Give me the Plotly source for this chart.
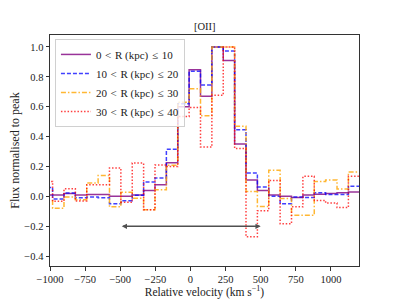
import plotly.graph_objects as go
import numpy as np

# Bin centres (km/s) and fluxes normalised to peak
velocity = [-1022, -941, -860, -779, -698, -617, -536, -455, -374, -293, -212, -131, -50,
            31, 112, 193, 274, 355, 436, 517, 598, 679, 760, 841, 922, 1003, 1084, 1165]
bin_width = 81

flux_0_10 = [0.01, 0.01, 0.02, 0.01, 0.013, 0.013, 0.0, 0.0, 0.01, 0.04, 0.078, 0.225, 0.60, 0.848,
             0.67, 1.0, 0.91, 0.35, 0.11, 0.04, 0.01, 0.0, -0.007, 0.01, 0.015, 0.02, 0.025, 0.03]
flux_10_20 = [0.06, -0.018, 0.022, -0.01, -0.005, -0.01, -0.05, -0.03, 0.007, 0.096, 0.123, 0.315, 0.62, 0.837,
              0.745, 1.0, 0.973, 0.446, 0.156, 0.062, 0.0, -0.05, -0.005, -0.007, 0.025, 0.013, 0.013, 0.067]
flux_20_30 = [-0.03, -0.08, -0.005, -0.022, 0.09, 0.14, -0.07, 0.027, -0.013, -0.09, 0.045, 0.208, 0.63, 0.72,
              0.54, 1.0, 1.0, 0.47, 0.033, -0.067, 0.174, -0.015, -0.127, -0.127, 0.1, 0.11, 0.05, 0.163]
flux_30_40 = [0.1, -0.033, 0.051, -0.031, 0.078, 0.078, 0.19, -0.04, 0.223, -0.09, 0.21, 0.2, 0.535, 0.594,
              0.33, 0.676, 1.0, 0.32, -0.27, -0.096, 0.107, -0.183, -0.07, 0.134, -0.027, -0.045, -0.075, 0.134]

SP = "\u2004"  # math-style spacing around relations
labels = [f"0{SP}&lt;{SP}R (kpc){SP}≤{SP}10", f"10{SP}&lt;{SP}R (kpc){SP}≤{SP}20",
          f"20{SP}&lt;{SP}R (kpc){SP}≤{SP}30", f"30{SP}&lt;{SP}R (kpc){SP}≤{SP}40"]
series = [flux_0_10, flux_10_20, flux_20_30, flux_30_40]
colors = ["rgba(128,0,128,0.8)", "rgba(0,0,255,0.75)", "rgba(255,165,0,0.8)", "rgba(255,0,0,0.75)"]
dashes = ["solid", "4px,2px", "5px,2px,1.5px,2px", "1.5px,1.8px"]

arrow_start, arrow_end, arrow_y = -500, 500, -0.2

xticks = [-1000, -750, -500, -250, 0, 250, 500, 750, 1000]
yticks = [-0.4, -0.2, 0.0, 0.2, 0.4, 0.6, 0.8, 1.0]

FONT = "Liberation Serif"
TXT = "#222"

v = np.array(velocity, dtype=float)
edges = np.append(v - bin_width / 2, v[-1] + bin_width / 2)

fig = go.Figure()
for lab, f, c, d in zip(labels, series, colors, dashes):
    fig.add_trace(go.Scatter(
        x=edges, y=list(f) + [f[-1]], mode="lines", name=lab,
        line=dict(shape="hv", color=c, dash=d, width=1.5),
    ))

fig.add_annotation(x=arrow_end, y=arrow_y, ax=arrow_start, ay=arrow_y,
                   xref="x", yref="y", axref="x", ayref="y", text="",
                   showarrow=True, arrowhead=2, startarrowhead=2, arrowside="end+start",
                   arrowsize=0.7, startarrowsize=0.7, arrowwidth=1.5, arrowcolor="#505050")

fig.add_annotation(x=0.5, y=1, xref="paper", yref="paper", text="[OII]", showarrow=False,
                   yanchor="bottom", yshift=1, font=dict(family=FONT, size=10.5, color=TXT))

axis_common = dict(showline=True, linecolor="#333", linewidth=1, mirror=True, ticks="outside",
                   ticklen=3.5, tickwidth=1, tickcolor="#333", showgrid=False, zeroline=False,
                   automargin=False, tickfont=dict(family=FONT, size=10.5, color=TXT))

fig.update_xaxes(range=[-1000, 1200], tickvals=xticks,
                 ticktext=[str(t).replace("-", "−") for t in xticks],
                 title=dict(text="Relative velocity (km s<sup>−1</sup>)", font=dict(family=FONT, size=11.5, color=TXT)),
                 **axis_common)
fig.update_yaxes(range=[-0.466, 1.08], tickvals=yticks,
                 ticktext=[f"{t:.1f}".replace("-", "−") for t in yticks],
                 title=dict(text="Flux normalised to peak", font=dict(family=FONT, size=12, color=TXT)),
                 **axis_common)

# page body adds an 8px offset, so the figure is sized/margined to compensate
fig.update_layout(
    width=391, height=291, margin=dict(l=42, r=40, t=27, b=33),
    paper_bgcolor="white", plot_bgcolor="white",
    legend=dict(x=0.016, y=0.983, xanchor="left", yanchor="top", bgcolor="rgba(255,255,255,0.8)",
                bordercolor="#d0d0d0", borderwidth=1, font=dict(family=FONT, size=11, color=TXT),
                tracegroupgap=0, itemwidth=30),
    showlegend=True,
)

fig.write_html("out.html")
